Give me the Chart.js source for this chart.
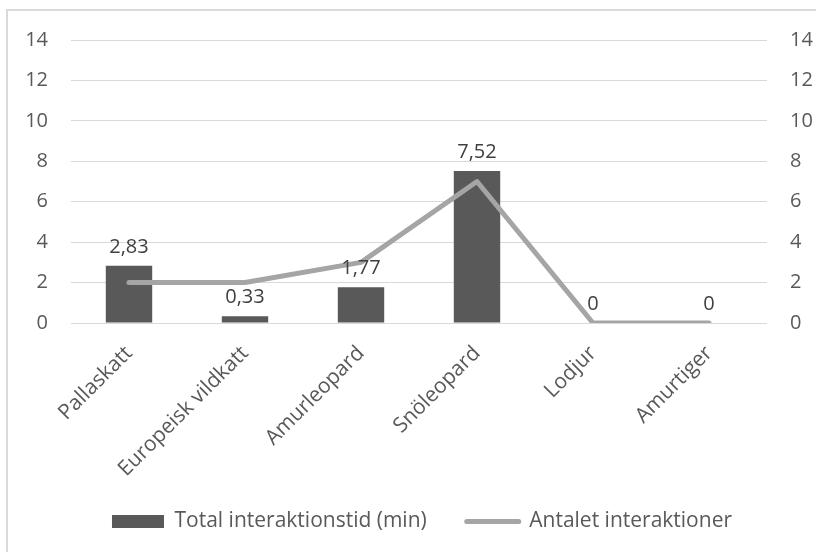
<!DOCTYPE html>
<html>
<head>
<meta charset="utf-8">
<script src="https://cdn.jsdelivr.net/npm/chart.js@4/dist/chart.umd.min.js"></script>
<style>
    body { margin: 0; background: #fff; }
    #wrap { position: relative; width: 816px; height: 552px; }
    #frame { position: absolute; left: 6px; top: 9px; right: -4px; bottom: -4px; border-left: 2px solid #d9d9d9; border-top: 2px solid #d9d9d9; }
</style>
</head>
<body>
<div id="wrap">
    <div id="frame"></div>
    <canvas id="interChart" width="816" height="552"></canvas>
</div>
<script>
const animals = ['Pallaskatt', 'Europeisk vildkatt', 'Amurleopard', 'Snöleopard', 'Lodjur', 'Amurtiger'];
const totalMinutes = [2.83, 0.33, 1.77, 7.52, 0, 0];
const interactionCount = [2, 2, 3, 7, 0, 0];
const axisTicks = [0, 2, 4, 6, 8, 10, 12, 14];

const FONT = '"Open Sans"';
const TEXT = '#595959';
const NUM_SIZE = 20;
const LABEL_SIZE = 21;

// bar values above each column, decimal comma
const barValues = {
    id: 'barValues',
    afterDatasetsDraw(chart) {
        const ctx = chart.ctx;
        const meta = chart.getDatasetMeta(0);
        ctx.save();
        ctx.font = NUM_SIZE + 'px ' + FONT;
        ctx.fillStyle = '#404040';
        ctx.textAlign = 'center';
        ctx.textBaseline = 'alphabetic';
        meta.data.forEach((bar, i) => {
            const txt = String(totalMinutes[i]).replace('.', ',');
            ctx.fillText(txt, bar.x, bar.y - 13);
        });
        ctx.restore();
    }
};

// wide item padding pushes the legend row down, so stretch its box upward and move it a bit right
const legendShift = {
    id: 'legendShift',
    afterLayout(chart) {
        const lg = chart.legend;
        lg.left += 14;
        lg.right += 14;
        lg.top -= 30;
        lg.height += 30;
    }
};

function yScale(position, width, pad) {
    return {
        position: position,
        min: 0,
        max: 14,
        afterBuildTicks: s => { s.ticks = axisTicks.map(v => ({ value: v })); },
        afterFit: s => { s.width = width; },
        border: { display: false },
        grid: { display: position === 'left', color: '#d9d9d9', lineWidth: 1, drawTicks: false },
        ticks: { color: TEXT, padding: pad, font: { family: FONT, size: NUM_SIZE } }
    };
}

new Chart(document.getElementById('interChart'), {
    data: {
        labels: animals,
        datasets: [
            {
                type: 'bar',
                label: 'Total interaktionstid (min)',
                data: totalMinutes,
                backgroundColor: '#595959',
                barPercentage: 0.4,
                categoryPercentage: 1,
                yAxisID: 'y',
                order: 2
            },
            {
                type: 'line',
                label: 'Antalet interaktioner',
                data: interactionCount,
                borderColor: '#a5a5a5',
                backgroundColor: '#a5a5a5',
                borderWidth: 5,
                borderCapStyle: 'round',
                borderJoinStyle: 'round',
                pointRadius: 0,
                tension: 0,
                yAxisID: 'y1',
                order: 1
            }
        ]
    },
    options: {
        responsive: false,
        animation: false,
        layout: { padding: { top: 40, left: 0, right: 0, bottom: 10 } },
        scales: {
            x: {
                offset: true,
                afterFit: s => { s.height = 178; },
                border: { display: false },
                grid: { display: false },
                ticks: { color: TEXT, maxRotation: 45, minRotation: 45, padding: 10, font: { family: FONT, size: LABEL_SIZE } }
            },
            y: yScale('left', 71, 23),
            y1: yScale('right', 49, 23)
        },
        plugins: {
            tooltip: { enabled: false },
            legend: {
                position: 'bottom',
                maxHeight: 41,
                labels: {
                    usePointStyle: true,
                    pointStyleWidth: 52,
                    boxHeight: 13,
                    padding: 40,
                    color: TEXT,
                    font: { family: FONT, size: LABEL_SIZE },
                    generateLabels: chart => chart.data.datasets.map((ds, i) => ({
                        text: ds.label,
                        fillStyle: ds.backgroundColor,
                        strokeStyle: ds.borderColor || ds.backgroundColor,
                        lineWidth: ds.type === 'line' ? 5 : 0,
                        lineCap: 'round',
                        pointStyle: ds.type === 'line' ? 'line' : 'rect',
                        fontColor: TEXT,
                        hidden: false,
                        datasetIndex: i
                    }))
                }
            }
        }
    },
    plugins: [barValues, legendShift]
});
</script>
</body>
</html>
